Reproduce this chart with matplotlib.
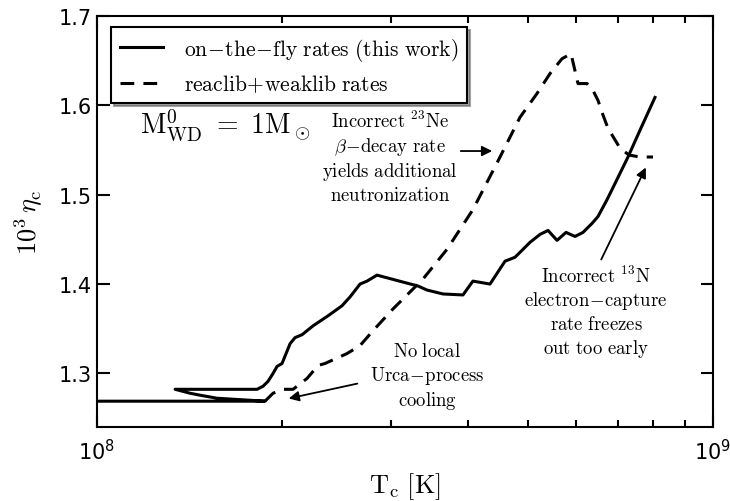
import numpy as np
import matplotlib
matplotlib.use('Agg')
import matplotlib.pyplot as plt
from matplotlib.ticker import NullFormatter

plt.rcParams['mathtext.fontset'] = 'cm'
plt.rcParams['font.family'] = 'DejaVu Sans'

# central temperature in units of 1e8 K and 10^3 eta_c
# on-the-fly rates (this work)
T_fly = [1.000, 1.874, 1.566, 1.470, 1.416, 1.339, 1.819, 1.860, 1.895, 1.931,
         1.960, 1.997, 2.058, 2.096, 2.152, 2.243, 2.371, 2.498, 2.575, 2.673,
         2.744, 2.848, 3.139, 3.320, 3.433, 3.645, 3.927, 4.076, 4.345, 4.596,
         4.771, 5.046, 5.239, 5.398, 5.582, 5.773, 5.970, 6.151, 6.361, 6.506,
         6.729, 6.855, 7.278, 7.612, 8.050]
eta_fly = [1.2689, 1.2689, 1.2722, 1.2756, 1.2778, 1.2822, 1.2822, 1.2856, 1.2911, 1.3000,
           1.3078, 1.3111, 1.3333, 1.3400, 1.3433, 1.3533, 1.3644, 1.3756, 1.3856, 1.4000,
           1.4033, 1.4100, 1.4022, 1.3978, 1.3933, 1.3889, 1.3878, 1.4033, 1.4000, 1.4256,
           1.4300, 1.4467, 1.4556, 1.4600, 1.4489, 1.4578, 1.4533, 1.4578, 1.4678, 1.4756,
           1.4944, 1.5056, 1.5422, 1.5722, 1.6089]

# reaclib + weaklib rates
T_lib = [1.874, 1.931, 2.005, 2.081, 2.193, 2.285, 2.345, 2.546, 2.673, 2.806,
         3.024, 3.222, 3.382, 3.700, 4.076, 4.511, 4.861, 5.180, 5.438, 5.687,
         5.882, 6.037, 6.244, 6.385, 6.506, 6.604, 6.753, 7.063, 7.305, 7.612,
         7.991]
eta_lib = [1.2689, 1.2778, 1.2822, 1.2822, 1.2944, 1.3089, 1.3111, 1.3222, 1.3311, 1.3478,
           1.3722, 1.3911, 1.4056, 1.4389, 1.4833, 1.5422, 1.5867, 1.6133, 1.6356, 1.6522,
           1.6578, 1.6244, 1.6244, 1.6167, 1.6056, 1.5922, 1.5744, 1.5522, 1.5444, 1.5422,
           1.5422]

fig = plt.figure(figsize=(7.30, 5.02), dpi=100)
ax = fig.add_axes([0.1329, 0.1474, 0.8438, 0.8187])

ax.plot(np.array(T_fly) * 1e8, eta_fly, color='k', lw=2.2,
        label=r'$\mathrm{on\!-\!the\!-\!fly\ rates\ (this\ work)}$')
ax.plot(np.array(T_lib) * 1e8, eta_lib, color='k', lw=2.2, dashes=(4.5, 3),
        label=r'$\mathrm{reaclib\!+\!weaklib\ rates}$')

ax.set_xscale('log')
ax.set_xlim(1e8, 1e9)
ax.set_ylim(1.24, 1.7)
ax.set_yticks([1.3, 1.4, 1.5, 1.6, 1.7])
ax.xaxis.set_minor_formatter(NullFormatter())

ax.tick_params(which='both', direction='in', top=True, right=True, labelsize=15, width=1.5)
ax.tick_params(which='major', length=9)
ax.tick_params(which='minor', length=5)
ax.tick_params(axis='x', pad=8)
for s in ax.spines.values():
    s.set_linewidth(1.5)

ax.set_xlabel(r'$\mathrm{T_c\ [K]}$', fontsize=19, labelpad=5)
ax.set_ylabel(r'$10^3\,\eta_{\mathrm{c}}$', fontsize=19, labelpad=10)

leg = ax.legend(loc='upper left', bbox_to_anchor=(0.0227, 0.973), borderaxespad=0,
                fontsize=15.5, shadow=True, fancybox=False, framealpha=1,
                handlelength=2.0, handletextpad=1.0, labelspacing=0.45)
leg.get_frame().set_edgecolor('k')
leg.get_frame().set_linewidth(1.5)

ax.text(0.2094, 0.737, r'$\mathrm{M_{WD}^0\ =\ 1M_\odot}$', transform=ax.transAxes,
        fontsize=20, ha='center', va='center')

ax.text(0.4756, 0.657,
        r'$\mathrm{Incorrect\ ^{23}Ne}$' + '\n' + r'$\beta\mathrm{\!-\!decay\ rate}$' + '\n'
        + r'$\mathrm{yields\ additional}$' + '\n' + r'$\mathrm{neutronization}$',
        transform=ax.transAxes, fontsize=13.5, ha='center', va='center',
        multialignment='center', linespacing=1.2)
ax.annotate('', xy=(0.646, 0.6715), xytext=(0.586, 0.6715), xycoords='axes fraction',
            arrowprops=dict(arrowstyle='-|>', color='k', lw=1.3, mutation_scale=15))

ax.text(0.5357, 0.124,
        r'$\mathrm{No\ local}$' + '\n' + r'$\mathrm{Urca\!-\!process}$' + '\n' + r'$\mathrm{cooling}$',
        transform=ax.transAxes, fontsize=13.5, ha='center', va='center',
        multialignment='center', linespacing=1.2)
ax.annotate('', xy=(0.3068, 0.068), xytext=(0.427, 0.107), xycoords='axes fraction',
            arrowprops=dict(arrowstyle='-|>', color='k', lw=1.3, mutation_scale=15))

ax.text(0.810, 0.28,
        r'$\mathrm{Incorrect\ ^{13}N}$' + '\n' + r'$\mathrm{electron\!-\!capture}$' + '\n'
        + r'$\mathrm{rate\ freezes}$' + '\n' + r'$\mathrm{out\ too\ early}$',
        transform=ax.transAxes, fontsize=13.5, ha='center', va='center',
        multialignment='center', linespacing=1.2)
ax.annotate('', xy=(0.8929, 0.6375), xytext=(0.8166, 0.4015), xycoords='axes fraction',
            arrowprops=dict(arrowstyle='-|>', color='k', lw=1.3, mutation_scale=15))

fig.savefig('out.png', dpi=100)
